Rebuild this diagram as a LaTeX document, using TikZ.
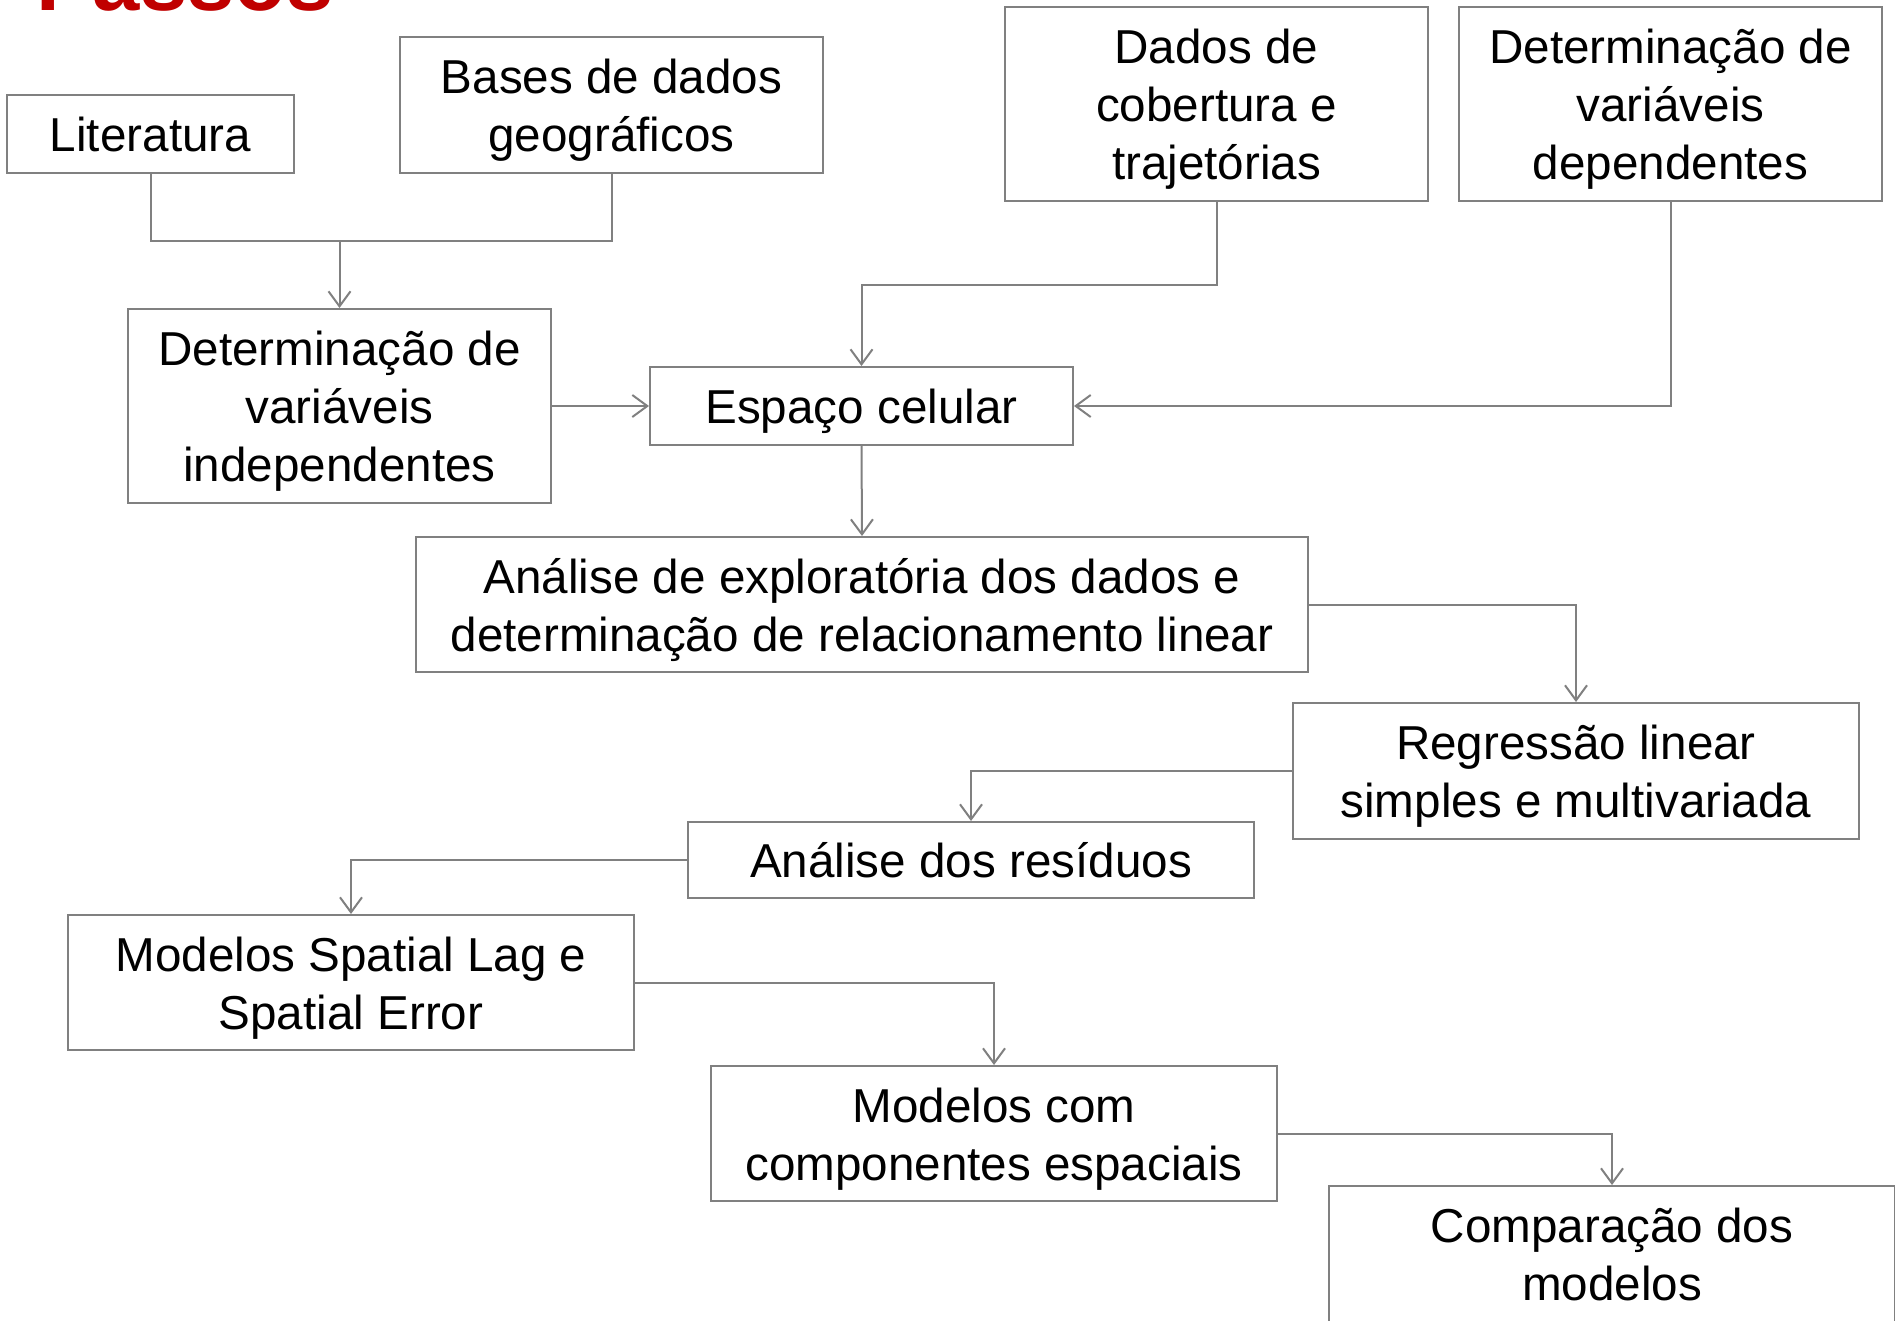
\documentclass[tikz,border=0pt]{standalone}
\usepackage{fontspec}
\setmainfont{Liberation Sans}
\usetikzlibrary{arrows.meta}
\definecolor{lc}{RGB}{128,128,128}
\definecolor{tred}{RGB}{192,0,0}
\newcommand{\boxtext}[1]{\raisebox{-6pt}[\height][\depth]{\begin{tabular}{@{}c@{}}#1\end{tabular}}}
\begin{document}
\begin{tikzpicture}[x=1pt,y=-1pt,
  box/.style={draw=lc,line width=2pt,rectangle,inner sep=0pt,
    font=\fontsize{47.6}{58}\selectfont,text=black},
  conn/.style={draw=lc,line width=2pt},
  arr/.style={conn,-{Straight Barb[length=15pt,width=22pt,line width=2pt]}}]
\clip (0,0) rectangle (1895,1320);
\fill[white] (0,0) rectangle (1895,1320);
\node[anchor=base west,inner sep=0pt,text=tred,font=\fontsize{85}{90}\selectfont\bfseries] (title) at (36,10) {Passos};
\node[box,minimum width=287pt,minimum height=78pt] (lit) at (150.5,134) {\boxtext{Literatura}};
\node[box,minimum width=423pt,minimum height=136pt] (bases) at (611.5,105) {\boxtext{Bases de dados\\geográficos}};
\node[box,minimum width=423pt,minimum height=194pt] (dados) at (1216.5,104) {\boxtext{Dados de\\cobertura e\\trajetórias}};
\node[box,minimum width=423pt,minimum height=194pt] (dep) at (1670.5,104) {\boxtext{Determinação de\\variáveis\\dependentes}};
\node[box,minimum width=423pt,minimum height=194pt] (indep) at (339.5,406) {\boxtext{Determinação de\\variáveis\\independentes}};
\node[box,minimum width=423pt,minimum height=78pt] (esp) at (861.5,406) {\boxtext{Espaço celular}};
\node[box,minimum width=892pt,minimum height=135pt] (anal) at (862,604.5) {\boxtext{Análise de exploratória dos dados e\\determinação de relacionamento linear}};
\node[box,minimum width=566pt,minimum height=136pt] (reg) at (1576,771) {\boxtext{Regressão linear\\simples e multivariada}};
\node[box,minimum width=566pt,minimum height=76pt] (res) at (971,860) {\boxtext{Análise dos resíduos}};
\node[box,minimum width=566pt,minimum height=135pt] (msl) at (351,982.5) {\boxtext{Modelos Spatial Lag e\\Spatial Error}};
\node[box,minimum width=566pt,minimum height=135pt] (mcc) at (994,1133.5) {\boxtext{Modelos com\\componentes espaciais}};
\node[box,minimum width=566pt,minimum height=136pt] (comp) at (1612,1254) {\boxtext{Comparação dos\\modelos}};
\coordinate (j) at (indep.north |- 0,241);
\draw[conn] (lit.south) |- (j) -| (bases.south);
\draw[arr] (j) -- (indep.north);
\draw[arr] (dados.south) -- ++(0,83) -| (esp.north);
\draw[arr] (dep.south) |- (esp.east);
\draw[arr] (indep.east) -- (esp.west);
\draw[arr] (esp.south) -- (anal.north);
\draw[arr] (anal.east) -| (reg.north);
\draw[arr] (reg.west) -| (res.north);
\draw[arr] (res.west) -| (msl.north);
\draw[arr] (msl.east) -| (mcc.north);
\draw[arr] (mcc.east) -| (comp.north);
\end{tikzpicture}
\end{document}
